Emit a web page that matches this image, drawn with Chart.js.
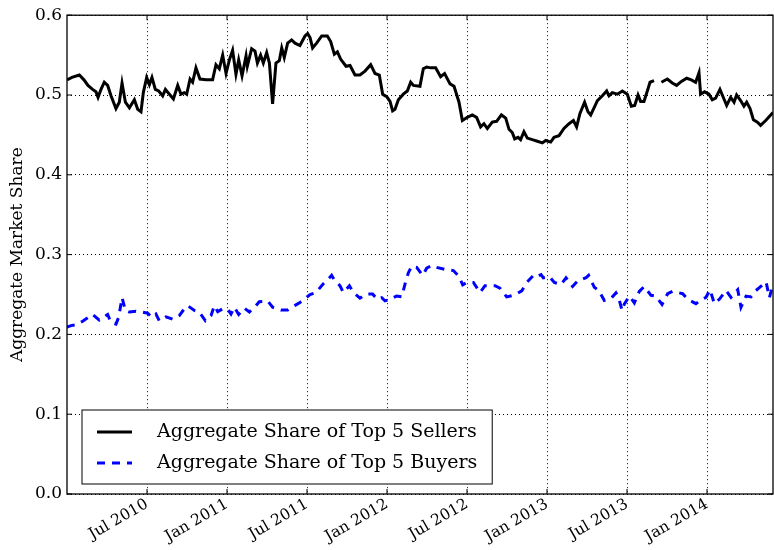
<!DOCTYPE html>
<html lang="en">
<head>
    <meta charset="UTF-8">
    <title>Aggregate Market Share</title>
    <script src="https://cdn.jsdelivr.net/npm/chart.js"></script>
    <style>
        html, body {
            margin: 0;
            padding: 0;
            background-color: #ffffff;
        }

        .chart-container {
            position: relative;
            width: 774px;
            height: 550px;
        }
    </style>
</head>
<body>

    <div class="chart-container">
        <canvas id="shareChart" width="774" height="550"></canvas>
    </div>

    <script>
        // time is in years since Jan 2010
        const sellerTime = [
            0.000, 0.031, 0.077, 0.106, 0.131, 0.160, 0.181, 0.194, 0.2125, 0.233,
            0.254, 0.275, 0.306, 0.327, 0.344, 0.365, 0.390, 0.421, 0.442, 0.4625,
            0.477, 0.498, 0.515, 0.531, 0.552, 0.573, 0.598, 0.615, 0.640, 0.665,
            0.692, 0.7125, 0.733, 0.748, 0.769, 0.785, 0.806, 0.831, 0.869, 0.910,
            0.931, 0.952, 0.973, 0.994, 1.015, 1.035, 1.056, 1.073, 1.094, 1.119,
            1.127, 1.154, 1.175, 1.190, 1.210, 1.227, 1.248, 1.265, 1.285, 1.306,
            1.327, 1.342, 1.358, 1.379, 1.404, 1.425, 1.456, 1.4875, 1.504, 1.519,
            1.535, 1.560, 1.592, 1.627, 1.648, 1.671, 1.690, 1.710, 1.744, 1.769,
            1.800, 1.831, 1.8625, 1.898, 1.925, 1.952, 1.973, 1.998, 2.019, 2.035,
            2.050, 2.071, 2.102, 2.127, 2.148, 2.165, 2.206, 2.227, 2.248, 2.273,
            2.304, 2.335, 2.360, 2.394, 2.419, 2.450, 2.471, 2.502, 2.533, 2.560,
            2.585, 2.606, 2.627, 2.658, 2.685, 2.715, 2.742, 2.7625, 2.783, 2.798,
            2.819, 2.835, 2.856, 2.877, 2.908, 2.940, 2.971, 2.992, 3.023, 3.044,
            3.075, 3.106, 3.1375, 3.165, 3.185, 3.206, 3.235, 3.256, 3.273, 3.294,
            3.315, 3.346, 3.373, 3.3875, 3.408, 3.440, 3.471, 3.502, 3.527, 3.548,
            3.569, 3.585, 3.606, 3.627, 3.644, 3.669, 3.690, 3.715, 3.752, 3.783,
            3.810, 3.840, 3.873, 3.902, 3.929, 3.950, 3.960, 3.985, 4.0125, 4.033,
            4.054, 4.081, 4.106, 4.123, 4.148, 4.169, 4.185, 4.210, 4.231, 4.248,
            4.269, 4.290, 4.315, 4.335, 4.367, 4.398, 4.412
        ];
        const sellerShare = [
            0.519, 0.522, 0.525, 0.519, 0.512, 0.507, 0.504, 0.497, 0.507, 0.516,
            0.512, 0.499, 0.483, 0.491, 0.515, 0.491, 0.484, 0.494, 0.482, 0.479,
            0.503, 0.522, 0.513, 0.522, 0.507, 0.505, 0.499, 0.507, 0.501, 0.495,
            0.512, 0.501, 0.503, 0.501, 0.520, 0.516, 0.534, 0.520, 0.519, 0.519,
            0.538, 0.533, 0.550, 0.527, 0.544, 0.556, 0.526, 0.544, 0.524, 0.549,
            0.536, 0.558, 0.555, 0.540, 0.550, 0.540, 0.553, 0.540, 0.489, 0.540,
            0.543, 0.559, 0.547, 0.565, 0.569, 0.565, 0.562, 0.574, 0.577, 0.572,
            0.559, 0.565, 0.574, 0.574, 0.567, 0.551, 0.554, 0.545, 0.536, 0.537,
            0.525, 0.525, 0.530, 0.538, 0.527, 0.525, 0.501, 0.498, 0.492, 0.480,
            0.482, 0.494, 0.501, 0.505, 0.516, 0.512, 0.511, 0.533, 0.535, 0.534,
            0.534, 0.523, 0.527, 0.514, 0.511, 0.491, 0.468, 0.472, 0.475, 0.472,
            0.460, 0.464, 0.458, 0.466, 0.467, 0.475, 0.471, 0.457, 0.453, 0.445,
            0.447, 0.444, 0.454, 0.446, 0.444, 0.442, 0.440, 0.443, 0.441, 0.447,
            0.449, 0.458, 0.464, 0.468, 0.460, 0.477, 0.491, 0.479, 0.475, 0.484,
            0.493, 0.499, 0.505, 0.499, 0.503, 0.501, 0.505, 0.501, 0.486, 0.487,
            0.500, 0.492, 0.492, 0.505, 0.516, 0.518, null, 0.516, 0.520, 0.515,
            0.512, 0.517, 0.521, 0.519, 0.516, 0.528, 0.501, 0.504, 0.501, 0.494,
            0.496, 0.507, 0.495, 0.487, 0.497, 0.491, 0.500, 0.493, 0.486, 0.491,
            0.483, 0.469, 0.466, 0.462, 0.468, 0.475, 0.478
        ];

        const buyerTime = [
            0.000, 0.025, 0.056, 0.098, 0.160, 0.202, 0.254, 0.275, 0.306, 0.323,
            0.344, 0.365, 0.390, 0.431, 0.469, 0.504, 0.531, 0.556, 0.577, 0.619,
            0.660, 0.702, 0.733, 0.754, 0.796, 0.827, 0.865, 0.900, 0.921, 0.942,
            0.973, 1.004, 1.025, 1.046, 1.073, 1.108, 1.140, 1.181, 1.202, 1.254,
            1.285, 1.3375, 1.379, 1.431, 1.456, 1.477, 1.519, 1.556, 1.602, 1.627,
            1.654, 1.675, 1.706, 1.727, 1.765, 1.790, 1.831, 1.869, 1.910, 1.940,
            1.967, 1.9875, 2.019, 2.060, 2.092, 2.1125, 2.133, 2.154, 2.185, 2.223,
            2.248, 2.279, 2.310, 2.373, 2.415, 2.452, 2.473, 2.498, 2.540, 2.581,
            2.6125, 2.675, 2.706, 2.748, 2.800, 2.842, 2.873, 2.915, 2.931, 2.9625,
            2.977, 3.015, 3.046, 3.0875, 3.119, 3.160, 3.192, 3.244, 3.260, 3.296,
            3.323, 3.358, 3.400, 3.431, 3.448, 3.469, 3.483, 3.515, 3.546, 3.577,
            3.608, 3.650, 3.681, 3.719, 3.754, 3.785, 3.848, 3.879, 3.931, 3.969,
            3.994, 4.019, 4.046, 4.077, 4.119, 4.150, 4.192, 4.2125, 4.244, 4.275,
            4.306, 4.327, 4.369, 4.390, 4.412
        ];
        const buyerShare = [
            0.209, 0.211, 0.212, 0.2165, 0.225, 0.218, 0.225, 0.215, 0.213, 0.2215,
            0.246, 0.230, 0.228, 0.229, 0.228, 0.2265, 0.2215, 0.2255, 0.217, 0.222,
            0.219, 0.2235, 0.232, 0.236, 0.230, 0.228, 0.217, 0.2235, 0.236, 0.2285,
            0.232, 0.232, 0.2255, 0.234, 0.225, 0.233, 0.228, 0.236, 0.241, 0.242,
            0.234, 0.2305, 0.2305, 0.237, 0.240, 0.243, 0.250, 0.2525, 0.2635, 0.268,
            0.274, 0.267, 0.261, 0.2525, 0.261, 0.2525, 0.2455, 0.2505, 0.2505, 0.244,
            0.246, 0.242, 0.244, 0.248, 0.247, 0.263, 0.277, 0.2855, 0.284, 0.274,
            0.283, 0.2865, 0.284, 0.281, 0.280, 0.272, 0.262, 0.265, 0.265, 0.2525,
            0.261, 0.261, 0.258, 0.247, 0.2495, 0.2545, 0.265, 0.274, 0.272, 0.275,
            0.271, 0.2725, 0.265, 0.2625, 0.271, 0.260, 0.267, 0.271, 0.274, 0.259,
            0.255, 0.2425, 0.245, 0.252, 0.246, 0.230, 0.238, 0.248, 0.2395, 0.254,
            0.260, 0.249, 0.248, 0.2375, 0.251, 0.254, 0.251, 0.244, 0.2385, 0.244,
            0.2465, 0.256, 0.2385, 0.244, 0.255, 0.2465, 0.256, 0.234, 0.248, 0.247,
            0.255, 0.2585, 0.266, 0.246, 0.2625
        ];

        const tickTimes = [0.5, 1, 1.5, 2, 2.5, 3, 3.5, 4];
        const tickLabels = ['Jul 2010', 'Jan 2011', 'Jul 2011', 'Jan 2012',
                            'Jul 2012', 'Jan 2013', 'Jul 2013', 'Jan 2014'];
        const seriesLabels = ['Aggregate Share of Top 5 Sellers', 'Aggregate Share of Top 5 Buyers'];

        const serif = "'DejaVu Serif', serif";

        function toPoints(xs, ys) {
            return xs.map((x, i) => ({ x: x, y: ys[i] }));
        }

        // frame, inward tick marks and the legend box in the lower left
        const framePlugin = {
            id: 'frame',
            afterDraw(chart) {
                const ctx = chart.ctx;
                const area = chart.chartArea;
                const xs = chart.scales.x;
                const ys = chart.scales.y;
                ctx.save();
                ctx.strokeStyle = '#000';
                ctx.lineWidth = 1.3;
                ctx.strokeRect(area.left, area.top, area.right - area.left, area.bottom - area.top);

                ctx.lineWidth = 1;
                ctx.beginPath();
                xs.ticks.forEach(t => {
                    const px = xs.getPixelForValue(t.value);
                    ctx.moveTo(px, area.bottom);
                    ctx.lineTo(px, area.bottom - 5);
                    ctx.moveTo(px, area.top);
                    ctx.lineTo(px, area.top + 5);
                });
                ys.ticks.forEach(t => {
                    const py = ys.getPixelForValue(t.value);
                    ctx.moveTo(area.left, py);
                    ctx.lineTo(area.left + 5, py);
                    ctx.moveTo(area.right, py);
                    ctx.lineTo(area.right - 5, py);
                });
                ctx.stroke();

                // legend
                ctx.font = '19px ' + serif;
                const textW = Math.max(...chart.data.datasets.map(d => ctx.measureText(d.label).width));
                const boxX = area.left + 15;
                const boxH = 74;
                const boxY = area.bottom - 10 - boxH;
                const boxW = 75 + textW + 15;
                ctx.fillStyle = '#fff';
                ctx.fillRect(boxX, boxY, boxW, boxH);
                ctx.strokeStyle = '#000';
                ctx.lineWidth = 1;
                ctx.strokeRect(boxX, boxY, boxW, boxH);

                chart.data.datasets.forEach((d, i) => {
                    const rowY = boxY + 22 + i * 31;
                    ctx.beginPath();
                    ctx.strokeStyle = d.borderColor;
                    ctx.lineWidth = d.borderWidth;
                    ctx.setLineDash(d.borderDash || []);
                    ctx.moveTo(boxX + 15, rowY);
                    ctx.lineTo(boxX + 50, rowY);
                    ctx.stroke();
                    ctx.setLineDash([]);
                    ctx.fillStyle = '#000';
                    ctx.textBaseline = 'middle';
                    ctx.fillText(d.label, boxX + 75, rowY);
                });
                ctx.restore();
            }
        };

        const ctx = document.getElementById('shareChart').getContext('2d');
        new Chart(ctx, {
            type: 'line',
            data: {
                datasets: [{
                    label: seriesLabels[0],
                    data: toPoints(sellerTime, sellerShare),
                    borderColor: '#000000',
                    borderWidth: 3,
                    pointRadius: 0,
                    tension: 0,
                    spanGaps: false
                }, {
                    label: seriesLabels[1],
                    data: toPoints(buyerTime, buyerShare),
                    borderColor: '#0000ff',
                    borderWidth: 3,
                    borderDash: [8, 7],
                    borderCapStyle: 'butt',
                    pointRadius: 0,
                    tension: 0
                }]
            },
            options: {
                responsive: false,
                animation: false,
                layout: {
                    padding: { top: 12, right: 1, left: 0, bottom: 0 }
                },
                plugins: {
                    legend: { display: false },
                    tooltip: { enabled: false }
                },
                scales: {
                    x: {
                        type: 'linear',
                        min: 0,
                        max: 4.4125,
                        afterBuildTicks: scale => {
                            scale.ticks = tickTimes.map(v => ({ value: v }));
                        },
                        afterFit: scale => {
                            scale.height = 56;
                        },
                        ticks: {
                            autoSkip: false,
                            maxRotation: 30,
                            minRotation: 30,
                            padding: 1,
                            color: '#000',
                            font: { family: serif, size: 15.5 },
                            callback: v => tickLabels[tickTimes.indexOf(v)]
                        },
                        grid: {
                            color: '#000',
                            lineWidth: 1,
                            drawTicks: false
                        },
                        border: { display: false, dash: [1, 3] }
                    },
                    y: {
                        min: 0,
                        max: 0.6,
                        afterFit: scale => {
                            scale.width = 67;
                        },
                        ticks: {
                            stepSize: 0.1,
                            autoSkip: false,
                            padding: 5,
                            color: '#000',
                            font: { family: serif, size: 17 },
                            callback: v => v.toFixed(1)
                        },
                        grid: {
                            color: '#000',
                            lineWidth: 1,
                            drawTicks: false
                        },
                        border: { display: false, dash: [1, 3] },
                        title: {
                            display: true,
                            text: 'Aggregate Market Share',
                            color: '#000',
                            padding: { top: 7, bottom: 0 },
                            font: { family: serif, size: 17 }
                        }
                    }
                }
            },
            plugins: [framePlugin]
        });
    </script>
</body>
</html>
